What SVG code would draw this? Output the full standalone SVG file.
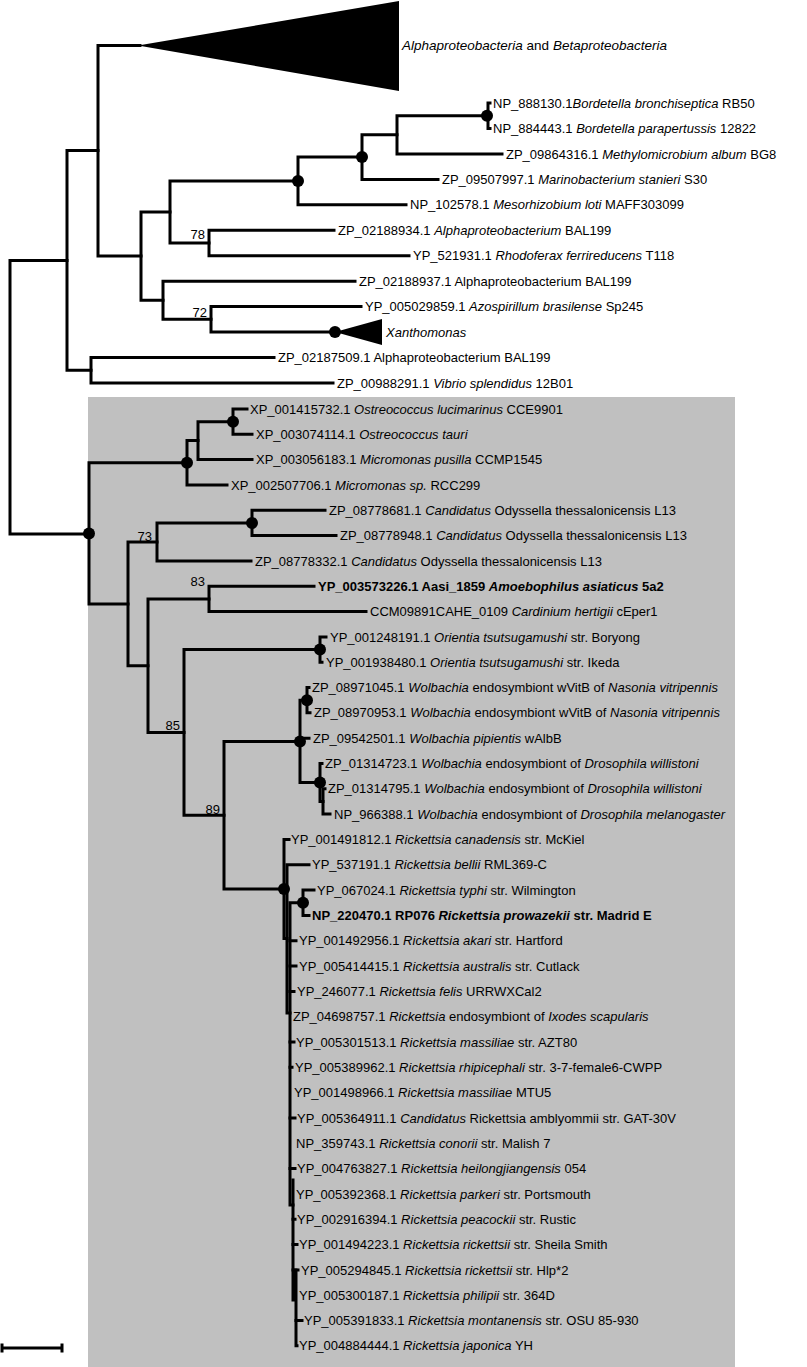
<svg xmlns="http://www.w3.org/2000/svg" width="807" height="1367" viewBox="0 0 807 1367">
<style>
.br{fill:none;stroke:#000;stroke-width:3;stroke-linejoin:miter;stroke-linecap:square}
.dot{fill:#000}
text{font-family:"Liberation Sans",Arial,sans-serif;font-size:13px;fill:#000}
.i{font-style:italic}
.b{font-weight:bold}
.bs{text-anchor:end}
</style>
<rect x="0" y="0" width="807" height="1367" fill="#fff"/>
<rect id="ingroup-box" x="88" y="397" width="647" height="970" fill="#c0c0c0"/>
<g id="collapsed">
<polygon id="alpha-beta" points="138,45.5 399,1 399,91" fill="#000"/>
<polygon id="xanthomonas" points="335,332.1 382,319 382,345" fill="#000"/>
</g>
<g id="connectors">
<path class="br" d="M67,260.4 H10 V534 H89"/>
<path class="br" d="M98,150.6 H67 V370.2 H91"/>
<path class="br" d="M140,45.5 H98 V256.1 H141"/>
<path class="br" d="M170,212 H141 V300.3 H163"/>
<path class="br" d="M298,181 H170 V243 H209"/>
<path class="br" d="M362,157.1 H298 V204.8 H406"/>
<path class="br" d="M397,134.8 H362 V179.4 H438"/>
<path class="br" d="M488,115.7 H397 V153.9 H502"/>
<path class="br" d="M490,103 H488 V128.5 H490"/>
<path class="br" d="M334,230.3 H209 V255.7 H409"/>
<path class="br" d="M355,281.2 H163 V319.3 H211"/>
<path class="br" d="M361,306.6 H211 V332.1 H335"/>
<path class="br" d="M274,357.5 H91 V383 H333"/>
<path class="br" d="M187,462.8 H89 V603.9 H128"/>
<path class="br" d="M198,440.6 H187 V485 H227"/>
<path class="br" d="M233,421.7 H198 V459.6 H252"/>
<path class="br" d="M247,409 H233 V434.3 H252"/>
<path class="br" d="M157,542 H128 V665.7 H148"/>
<path class="br" d="M252,523 H157 V560.9 H251"/>
<path class="br" d="M325,510.3 H252 V535.6 H336"/>
<path class="br" d="M209,598.9 H148 V732.4 H184"/>
<path class="br" d="M314,586.2 H209 V611.6 H366"/>
<path class="br" d="M320,649.5 H184 V815.2 H224"/>
<path class="br" d="M326,636.9 H320 V662.2 H322"/>
<path class="br" d="M300,741.4 H224 V889 H284"/>
<path class="br" d="M307,700.2 H300 V782.5 H320 M300,738.2 H309"/>
<path class="br" d="M309,687.5 H307 V712.8 H310"/>
<path class="br" d="M322,763.5 H320 V801.5 H323"/>
<path class="br" d="M325,788.8 H323 V814.1 H330"/>
<path class="br" d="M289,839.4 H284 V938.6 H287"/>
<path class="br" d="M309,864.8 H287 V1013 H290"/>
<path class="br" d="M303,902.8 H290 V1205 H293"/>
<path class="br" d="M314,890.1 H303 V915.4 H309"/>
<path class="br" d="M293,1180 V1300 H296 M296,1270 V1345.8 H297"/>
<path class="br" d="M290,940.7 H296 M290,966 H296 M290,991.4 H294 M290,1042 H294 M290,1067.3 H292 M290,1118 H295 M290,1168.6 H295 M293,1219.2 H295 M293,1244.6 H297 M293,1269.9 H298 M296,1320.5 H302"/>
</g>
<g id="support-dots">
<circle class="dot" cx="298" cy="181" r="6"/>
<circle class="dot" cx="362" cy="157.1" r="6"/>
<circle class="dot" cx="487" cy="115.7" r="6"/>
<circle class="dot" cx="335" cy="332.1" r="6"/>
<circle class="dot" cx="89" cy="533.4" r="6"/>
<circle class="dot" cx="187" cy="462.8" r="6"/>
<circle class="dot" cx="233" cy="421.7" r="6"/>
<circle class="dot" cx="252" cy="523" r="6"/>
<circle class="dot" cx="320" cy="649.5" r="6"/>
<circle class="dot" cx="307" cy="700.2" r="6"/>
<circle class="dot" cx="300" cy="741.4" r="6"/>
<circle class="dot" cx="320" cy="782.5" r="6"/>
<circle class="dot" cx="284" cy="889" r="6"/>
<circle class="dot" cx="303" cy="902.8" r="6"/>
</g>
<g id="bootstrap">
<text class="bs" x="205" y="239">78</text>
<text class="bs" x="207" y="317">72</text>
<text class="bs" x="152" y="541">73</text>
<text class="bs" x="205" y="586">83</text>
<text class="bs" x="180" y="730">85</text>
<text class="bs" x="220" y="814">89</text>
</g>
<g id="leaf-alphabeta"><text x="402" y="50" style="font-size:13.5px"><tspan class="i">Alphaproteobacteria</tspan> and <tspan class="i">Betaproteobacteria</tspan></text></g>
<g id="leaf01"><text x="493" y="107.6">NP_888130.1<tspan class="i">Bordetella bronchiseptica</tspan> RB50</text></g>
<g id="leaf02"><text x="493" y="133.1">NP_884443.1 <tspan class="i">Bordetella parapertussis</tspan> 12822</text></g>
<g id="leaf03"><text x="506" y="158.5">ZP_09864316.1 <tspan class="i">Methylomicrobium album</tspan> BG8</text></g>
<g id="leaf04"><text x="442" y="184">ZP_09507997.1 <tspan class="i">Marinobacterium stanieri</tspan> S30</text></g>
<g id="leaf05"><text x="410" y="209.4">NP_102578.1 <tspan class="i">Mesorhizobium loti</tspan> MAFF303099</text></g>
<g id="leaf06"><text x="338" y="234.9">ZP_02188934.1 <tspan class="i">Alphaproteobacterium</tspan> BAL199</text></g>
<g id="leaf07"><text x="413" y="260.3">YP_521931.1 <tspan class="i">Rhodoferax ferrireducens</tspan> T118</text></g>
<g id="leaf08"><text x="359" y="285.8">ZP_02188937.1 Alphaproteobacterium BAL199</text></g>
<g id="leaf09"><text x="365" y="311.2">YP_005029859.1 <tspan class="i">Azospirillum brasilense</tspan> Sp245</text></g>
<g id="leaf10"><text x="386" y="336.7" class="i">Xanthomonas</text></g>
<g id="leaf11"><text x="278" y="362.1">ZP_02187509.1 Alphaproteobacterium BAL199</text></g>
<g id="leaf12"><text x="337" y="387.6">ZP_00988291.1 <tspan class="i">Vibrio splendidus</tspan> 12B01</text></g>
<g id="leaf13"><text x="250" y="413.6">XP_001415732.1 <tspan class="i">Ostreococcus lucimarinus</tspan> CCE9901</text></g>
<g id="leaf14"><text x="256" y="438.9">XP_003074114.1 <tspan class="i">Ostreococcus tauri</tspan></text></g>
<g id="leaf15"><text x="256" y="464.2">XP_003056183.1 <tspan class="i">Micromonas pusilla</tspan> CCMP1545</text></g>
<g id="leaf16"><text x="231" y="489.6">XP_002507706.1 <tspan class="i">Micromonas sp.</tspan> RCC299</text></g>
<g id="leaf17"><text x="329" y="514.9">ZP_08778681.1 <tspan class="i">Candidatus</tspan> Odyssella thessalonicensis L13</text></g>
<g id="leaf18"><text x="340" y="540.2">ZP_08778948.1 <tspan class="i">Candidatus</tspan> Odyssella thessalonicensis L13</text></g>
<g id="leaf19"><text x="255" y="565.5">ZP_08778332.1 <tspan class="i">Candidatus</tspan> Odyssella thessalonicensis L13</text></g>
<g id="leaf20"><text x="318" y="590.8" class="b">YP_003573226.1 Aasi_1859 <tspan class="i">Amoebophilus asiaticus</tspan> 5a2</text></g>
<g id="leaf21"><text x="370" y="616.2">CCM09891CAHE_0109 <tspan class="i">Cardinium hertigii</tspan> cEper1</text></g>
<g id="leaf22"><text x="330" y="641.5">YP_001248191.1 <tspan class="i">Orientia tsutsugamushi</tspan> str. Boryong</text></g>
<g id="leaf23"><text x="326" y="666.8">YP_001938480.1 <tspan class="i">Orientia tsutsugamushi</tspan> str. Ikeda</text></g>
<g id="leaf24"><text x="312" y="692.1">ZP_08971045.1 <tspan class="i">Wolbachia</tspan> endosymbiont wVitB of <tspan class="i">Nasonia vitripennis</tspan></text></g>
<g id="leaf25"><text x="314" y="717.4">ZP_08970953.1 <tspan class="i">Wolbachia</tspan> endosymbiont wVitB of <tspan class="i">Nasonia vitripennis</tspan></text></g>
<g id="leaf26"><text x="313" y="742.8">ZP_09542501.1 <tspan class="i">Wolbachia pipientis</tspan> wAlbB</text></g>
<g id="leaf27"><text x="325" y="768.1">ZP_01314723.1 <tspan class="i">Wolbachia</tspan> endosymbiont of <tspan class="i">Drosophila willistoni</tspan></text></g>
<g id="leaf28"><text x="328" y="793.4">ZP_01314795.1 <tspan class="i">Wolbachia</tspan> endosymbiont of <tspan class="i">Drosophila willistoni</tspan></text></g>
<g id="leaf29"><text x="334" y="818.7">NP_966388.1 <tspan class="i">Wolbachia</tspan> endosymbiont of <tspan class="i">Drosophila melanogaster</tspan></text></g>
<g id="leaf30"><text x="291" y="844">YP_001491812.1 <tspan class="i">Rickettsia canadensis</tspan> str. McKiel</text></g>
<g id="leaf31"><text x="312" y="869.4">YP_537191.1 <tspan class="i">Rickettsia bellii</tspan> RML369-C</text></g>
<g id="leaf32"><text x="317" y="894.7">YP_067024.1 <tspan class="i">Rickettsia typhi</tspan> str. Wilmington</text></g>
<g id="leaf33"><text x="312" y="920" class="b">NP_220470.1 RP076 <tspan class="i">Rickettsia prowazekii</tspan> str. Madrid E</text></g>
<g id="leaf34"><text x="299" y="945.3">YP_001492956.1 <tspan class="i">Rickettsia akari</tspan> str. Hartford</text></g>
<g id="leaf35"><text x="299" y="970.6">YP_005414415.1 <tspan class="i">Rickettsia australis</tspan> str. Cutlack</text></g>
<g id="leaf36"><text x="297" y="996">YP_246077.1 <tspan class="i">Rickettsia felis</tspan> URRWXCal2</text></g>
<g id="leaf37"><text x="293" y="1021.3">ZP_04698757.1 <tspan class="i">Rickettsia</tspan> endosymbiont of <tspan class="i">Ixodes scapularis</tspan></text></g>
<g id="leaf38"><text x="296" y="1046.6">YP_005301513.1 <tspan class="i">Rickettsia massiliae</tspan> str. AZT80</text></g>
<g id="leaf39"><text x="295" y="1071.9">YP_005389962.1 <tspan class="i">Rickettsia rhipicephali</tspan> str. 3-7-female6-CWPP</text></g>
<g id="leaf40"><text x="294" y="1097.2">YP_001498966.1 <tspan class="i">Rickettsia massiliae</tspan> MTU5</text></g>
<g id="leaf41"><text x="297" y="1122.6">YP_005364911.1 <tspan class="i">Candidatus</tspan> Rickettsia amblyommii str. GAT-30V</text></g>
<g id="leaf42"><text x="296" y="1147.9">NP_359743.1 <tspan class="i">Rickettsia conorii</tspan> str. Malish 7</text></g>
<g id="leaf43"><text x="297" y="1173.2">YP_004763827.1 <tspan class="i">Rickettsia heilongjiangensis</tspan> 054</text></g>
<g id="leaf44"><text x="296" y="1198.5">YP_005392368.1 <tspan class="i">Rickettsia parkeri</tspan> str. Portsmouth</text></g>
<g id="leaf45"><text x="297" y="1223.8">YP_002916394.1 <tspan class="i">Rickettsia peacockii</tspan> str. Rustic</text></g>
<g id="leaf46"><text x="299" y="1249.2">YP_001494223.1 <tspan class="i">Rickettsia rickettsii</tspan> str. Sheila Smith</text></g>
<g id="leaf47"><text x="301" y="1274.5">YP_005294845.1 <tspan class="i">Rickettsia rickettsii</tspan> str. Hlp*2</text></g>
<g id="leaf48"><text x="299" y="1299.8">YP_005300187.1 <tspan class="i">Rickettsia philipii</tspan> str. 364D</text></g>
<g id="leaf49"><text x="304" y="1325.1">YP_005391833.1 <tspan class="i">Rickettsia montanensis</tspan> str. OSU 85-930</text></g>
<g id="leaf50"><text x="299" y="1350.4">YP_004884444.1 <tspan class="i">Rickettsia japonica</tspan> YH</text></g>
<g id="scale-bar">
<path class="br" d="M2,1348 H62 M2,1343.5 V1352.5 M62,1343.5 V1352.5" style="stroke-linecap:butt"/>
</g>
</svg>
